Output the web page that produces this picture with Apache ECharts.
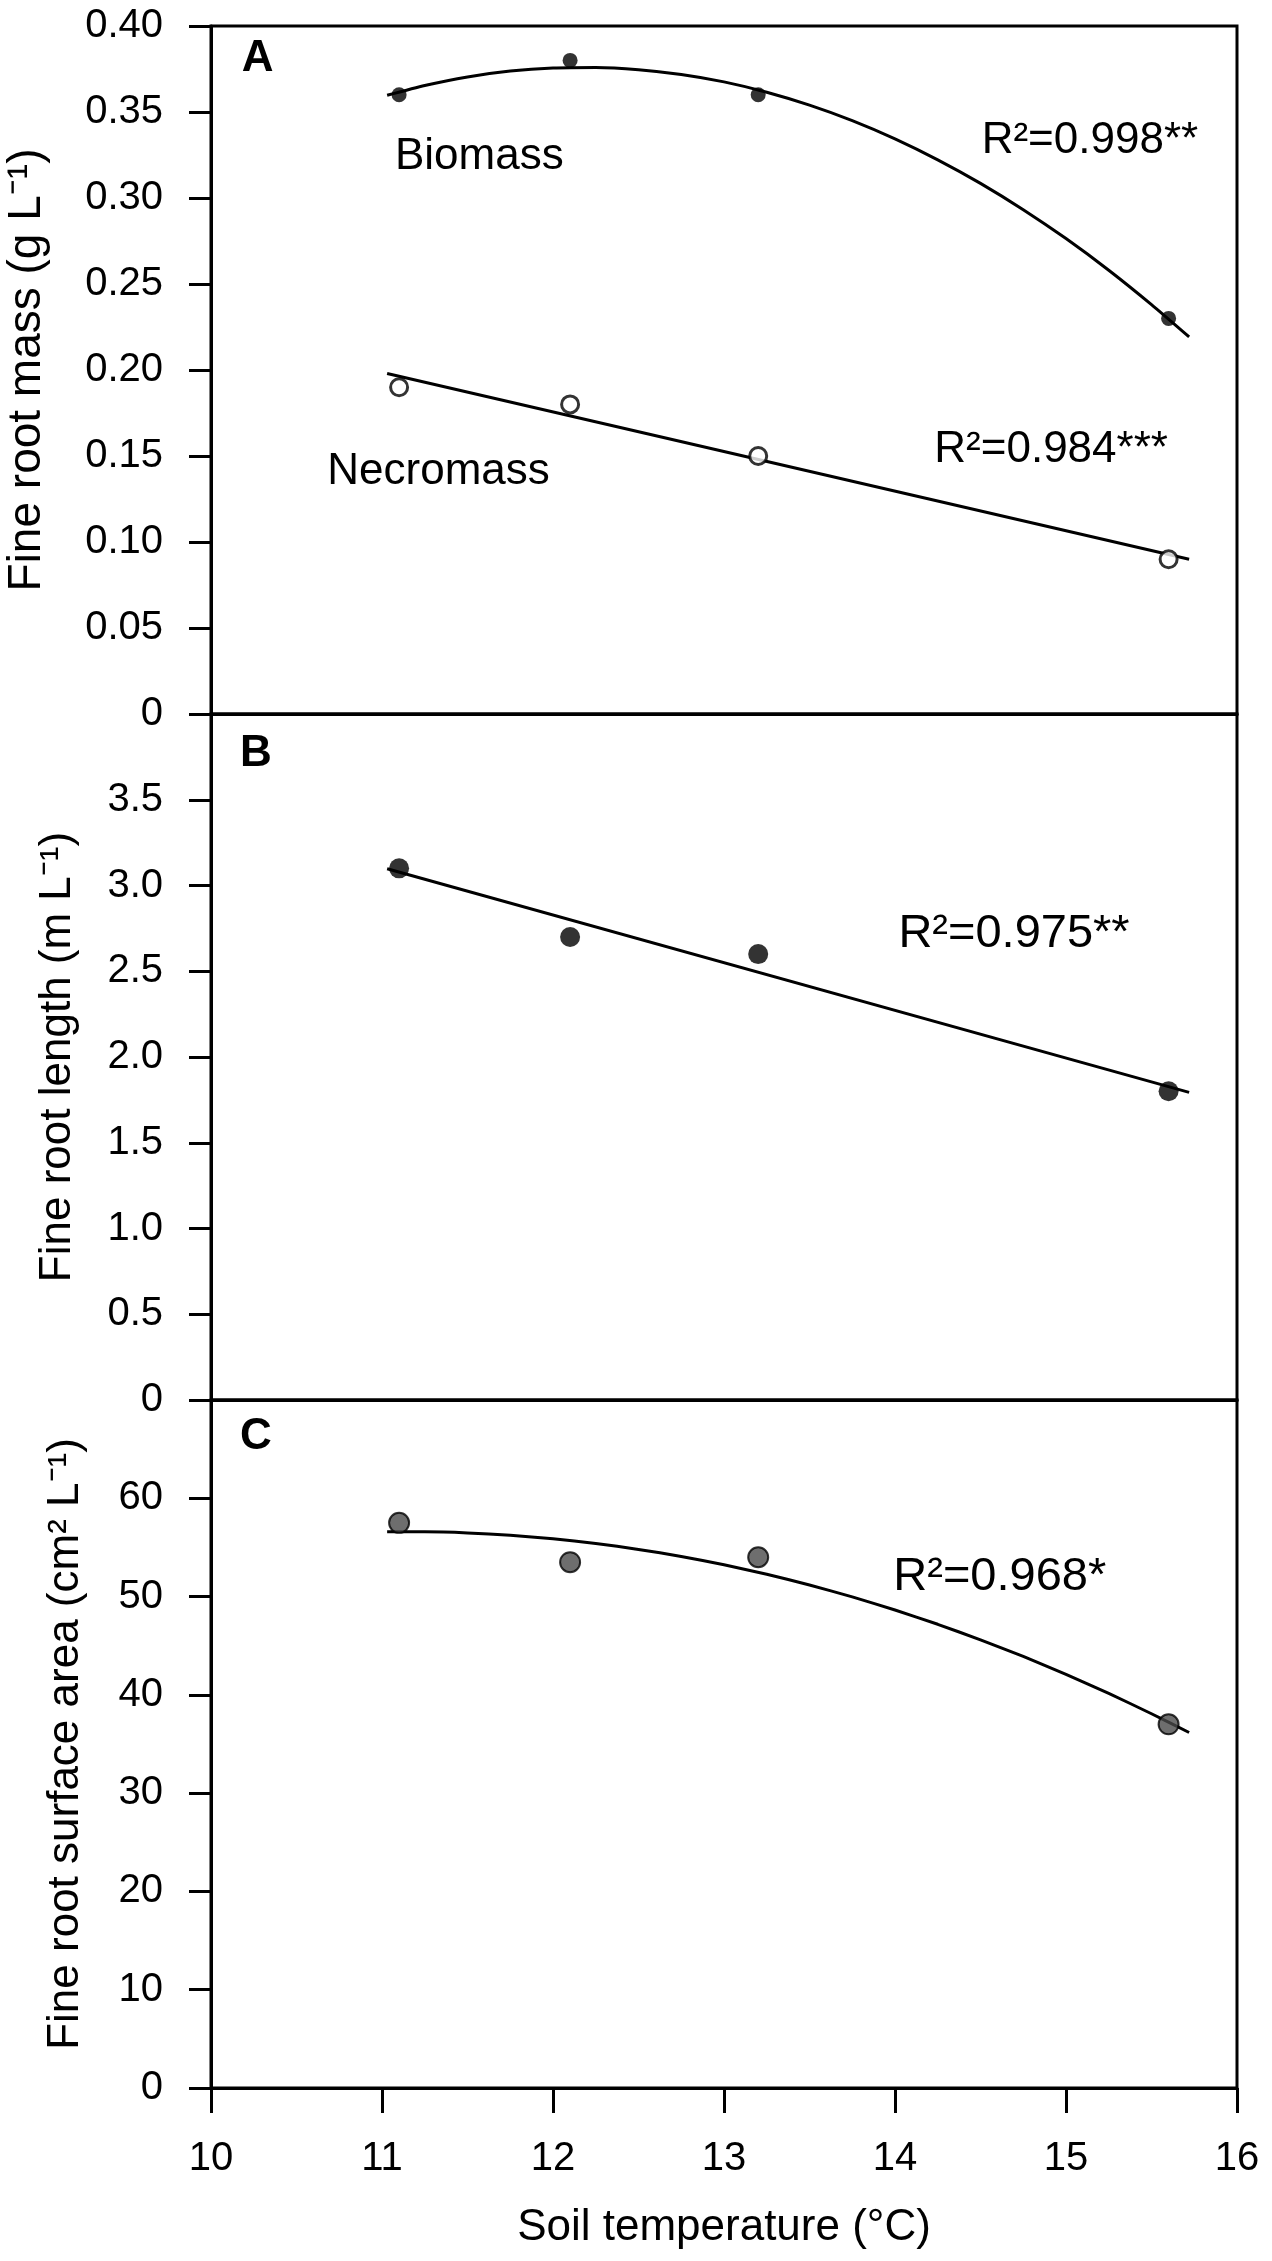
<!DOCTYPE html>
<html>
<head>
<meta charset="utf-8">
<script src="https://cdn.jsdelivr.net/npm/echarts@6/dist/echarts.min.js"></script>
<style>
  html, body { margin: 0; padding: 0; background: #fff; }
  #chart { width: 1272px; height: 2261px; }
</style>
</head>
<body>
<div id="chart"></div>
<script>
// ---- data ----
const temperature = [11.1, 12.1, 13.2, 15.6];
const biomass = [0.36, 0.38, 0.36, 0.23];
const necromass = [0.19, 0.18, 0.15, 0.09];
const rootLength = [3.1, 2.7, 2.6, 1.8];
const surfaceArea = [57.5, 53.5, 54.0, 37.0];

// regression curves as traced in the figure
const curveX = [11.03, 11.25, 11.5, 11.75, 12.0, 12.25, 12.5, 12.75, 13.0, 13.25,
                13.5, 13.75, 14.0, 14.25, 14.5, 14.75, 15.0, 15.25, 15.5, 15.72];
const biomassCurve = [0.3597, 0.3654, 0.3704, 0.3738, 0.3756, 0.3759, 0.3746, 0.3718, 0.3675, 0.3615,
                      0.3540, 0.3450, 0.3344, 0.3222, 0.3085, 0.2932, 0.2764, 0.2580, 0.2380, 0.2192];
const surfaceCurve = [56.59, 56.59, 56.48, 56.24, 55.88, 55.40, 54.80, 54.08, 53.23, 52.27,
                      51.18, 49.97, 48.63, 47.18, 45.60, 43.91, 42.09, 40.15, 38.08, 36.17];
const lineX = [11.03, 15.72];
const necromassLine = [0.198, 0.090];
const lengthLine = [3.098, 1.794];

// axis ticks
const xTicks = [10, 11, 12, 13, 14, 15, 16];
const yTicksA = [0, 0.05, 0.10, 0.15, 0.20, 0.25, 0.30, 0.35, 0.40];
const yTicksB = [0, 0.5, 1.0, 1.5, 2.0, 2.5, 3.0, 3.5, 4.0];
const yTicksC = [0, 10, 20, 30, 40, 50, 60, 70];

// texts
const panelLetters = ['A', 'B', 'C'];
const yTitles = [
  'Fine root mass (g L\u207B\u00B9)',
  'Fine root length (m L\u207B\u00B9)',
  'Fine root surface area (cm\u00B2 L\u207B\u00B9)'
];
const xTitle = 'Soil temperature (\u00B0C)';
const seriesLabels = ['Biomass', 'Necromass'];
const r2Labels = ['R\u00B2=0.998**', 'R\u00B2=0.984***', 'R\u00B2=0.975**', 'R\u00B2=0.968*'];

// ---- layout / style ----
const FONT = '"Liberation Sans", Arial, Helvetica, sans-serif';
const gridDefs = [
  { top: 26, height: 688 },
  { top: 714, height: 686 },
  { top: 1400, height: 688 }
];
const nameGaps = [161, 131, 123];
const nameSizes = [46, 44, 44];
const yTickSets = [yTicksA, yTicksB, yTicksC];

const pair = (xs, ys) => xs.map((x, i) => [x, ys[i]]);

const grids = gridDefs.map(g => ({
  left: 211, right: 35, top: g.top, height: g.height,
  show: true, borderColor: '#000', borderWidth: 3,
  containLabel: false, outerBoundsMode: 'none'
}));

const xAxes = [0, 1, 2].map(i => ({
  type: 'value', gridIndex: i,
  min: xTicks[0], max: xTicks[xTicks.length - 1], interval: 1,
  splitLine: { show: false },
  axisLine: { show: true, onZero: false, lineStyle: { color: '#000', width: 3 } },
  axisTick: { show: i === 2, inside: false, length: 25, lineStyle: { color: '#000', width: 3 } },
  axisLabel: { show: i === 2, margin: 51, color: '#000', fontSize: 40, fontFamily: FONT },
  name: i === 2 ? xTitle : '',
  nameLocation: 'middle', nameGap: 118, nameMoveOverlap: false,
  nameTextStyle: { color: '#000', fontSize: 44, fontFamily: FONT }
}));

const yAxes = [0, 1, 2].map(i => {
  const ticks = yTickSets[i];
  const lo = ticks[0], hi = ticks[ticks.length - 1];
  const step = ticks[1] - ticks[0];
  return {
    type: 'value', gridIndex: i, min: lo, max: hi, interval: step,
    splitLine: { show: false },
    axisLine: { show: true, onZero: false, lineStyle: { color: '#000', width: 3 } },
    axisTick: { show: true, inside: false, length: 22, lineStyle: { color: '#000', width: 3 } },
    axisLabel: {
      margin: 48, color: '#000', fontSize: 40, fontFamily: FONT,
      showMaxLabel: true, showMinLabel: true,
      formatter: function (v) {
        if (Math.abs(v) < 1e-9) return '0';
        if (i === 0) return v.toFixed(2);
        if (Math.abs(v - hi) < 1e-9) return '';
        if (i === 1) return v.toFixed(1);
        return String(Math.round(v));
      }
    },
    name: yTitles[i], nameLocation: 'middle', nameRotate: 90, nameGap: nameGaps[i],
    nameMoveOverlap: false,
    nameTextStyle: { color: '#000', fontSize: nameSizes[i], fontFamily: FONT }
  };
});

const lineStyle = { color: '#000', width: 3 };
const series = [
  { type: 'line', xAxisIndex: 0, yAxisIndex: 0, data: pair(curveX, biomassCurve), smooth: 0.2,
    showSymbol: false, lineStyle: lineStyle, z: 2, silent: true },
  { type: 'line', xAxisIndex: 0, yAxisIndex: 0, data: pair(lineX, necromassLine),
    showSymbol: false, lineStyle: lineStyle, z: 2, silent: true },
  { type: 'line', xAxisIndex: 1, yAxisIndex: 1, data: pair(lineX, lengthLine),
    showSymbol: false, lineStyle: lineStyle, z: 2, silent: true },
  { type: 'line', xAxisIndex: 2, yAxisIndex: 2, data: pair(curveX, surfaceCurve), smooth: 0.2,
    showSymbol: false, lineStyle: lineStyle, z: 2, silent: true },
  { type: 'scatter', xAxisIndex: 0, yAxisIndex: 0, data: pair(temperature, biomass),
    symbol: 'circle', symbolSize: 15, itemStyle: { color: '#000' }, z: 5 },
  { type: 'scatter', xAxisIndex: 0, yAxisIndex: 0, data: pair(temperature, necromass),
    symbol: 'circle', symbolSize: 17, itemStyle: { color: '#fff', borderColor: '#000', borderWidth: 3 }, z: 5 },
  { type: 'scatter', xAxisIndex: 1, yAxisIndex: 1, data: pair(temperature, rootLength),
    symbol: 'circle', symbolSize: 20, itemStyle: { color: '#000' }, z: 5 },
  { type: 'scatter', xAxisIndex: 2, yAxisIndex: 2, data: pair(temperature, surfaceArea),
    symbol: 'circle', symbolSize: 20, itemStyle: { color: '#4a4a4a', borderColor: '#000', borderWidth: 2 }, z: 5 }
];

const chart = echarts.init(document.getElementById('chart'), null, { renderer: 'canvas' });
chart.setOption({
  animation: false,
  backgroundColor: '#fff',
  grid: grids,
  xAxis: xAxes,
  yAxis: yAxes,
  series: series
});

// annotation texts anchored in data coordinates (left edge, vertical centre)
const annotations = [
  { grid: 0, at: [10.18, 0.381], text: panelLetters[0], size: 44, weight: 'bold' },
  { grid: 1, at: [10.17, 3.767], text: panelLetters[1], size: 44, weight: 'bold' },
  { grid: 2, at: [10.17, 66.2], text: panelLetters[2], size: 44, weight: 'bold' },
  { grid: 0, at: [11.076, 0.3238], text: seriesLabels[0], size: 44, weight: 'normal' },
  { grid: 0, at: [10.68, 0.1406], text: seriesLabels[1], size: 44, weight: 'normal' },
  { grid: 0, at: [14.507, 0.333], text: r2Labels[0], size: 44, weight: 'normal' },
  { grid: 0, at: [14.23, 0.1537], text: r2Labels[1], size: 44, weight: 'normal' },
  { grid: 1, at: [14.02, 2.717], text: r2Labels[2], size: 47, weight: 'normal' },
  { grid: 2, at: [13.99, 51.94], text: r2Labels[3], size: 47, weight: 'normal' }
];

const graphics = annotations.map(a => {
  const p = chart.convertToPixel({ gridIndex: a.grid }, a.at);
  return {
    type: 'text', x: p[0], y: p[1], z: 10, silent: true,
    style: {
      text: a.text, fill: '#000',
      font: a.weight + ' ' + a.size + 'px ' + FONT,
      align: 'left', verticalAlign: 'middle'
    }
  };
});
chart.setOption({ graphic: graphics });
</script>
</body>
</html>
